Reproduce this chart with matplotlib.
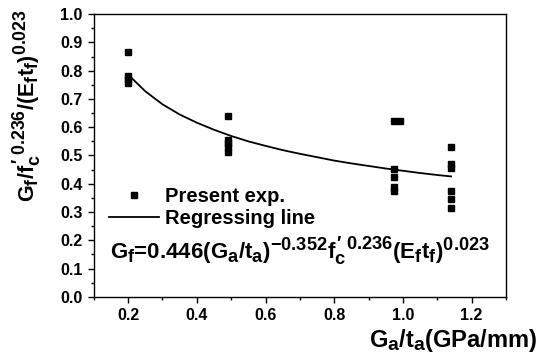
import numpy as np
import matplotlib
matplotlib.use('Agg')
import matplotlib.pyplot as plt
import matplotlib._mathtext as mt
from matplotlib.ticker import MultipleLocator

matplotlib.rcParams['font.family'] = 'Liberation Sans'
matplotlib.rcParams['font.weight'] = 'bold'
matplotlib.rcParams['mathtext.fontset'] = 'custom'
matplotlib.rcParams['mathtext.rm'] = 'Liberation Sans:bold'
matplotlib.rcParams['mathtext.it'] = 'Liberation Sans:bold'
matplotlib.rcParams['mathtext.bf'] = 'Liberation Sans:bold'
matplotlib.rcParams['xtick.direction'] = 'out'
matplotlib.rcParams['ytick.direction'] = 'out'
# sub/superscripts in the original are larger than mathtext default
mt.SHRINK_FACTOR = 0.82

exp_x = [0.2, 0.2, 0.2, 0.2,
         0.49, 0.49, 0.49, 0.49, 0.49,
         0.975, 0.99, 0.975, 0.975, 0.975, 0.975,
         1.14, 1.14, 1.14, 1.14, 1.14, 1.14]
exp_y = [0.865, 0.781, 0.77, 0.755,
         0.641, 0.555, 0.543, 0.531, 0.512,
         0.623, 0.621, 0.452, 0.425, 0.39, 0.375,
         0.531, 0.469, 0.455, 0.376, 0.345, 0.313]

# regressing line
reg_x = [0.20, 0.25, 0.30, 0.35, 0.40, 0.45, 0.50, 0.55, 0.60, 0.65, 0.70,
         0.75, 0.80, 0.85, 0.90, 0.95, 1.00, 1.05, 1.10, 1.14]
reg_y = [0.786, 0.727, 0.681, 0.645, 0.616, 0.591, 0.569, 0.550, 0.534, 0.519, 0.506,
         0.494, 0.482, 0.472, 0.463, 0.454, 0.446, 0.438, 0.431, 0.426]

fig = plt.figure(figsize=(5.36, 3.53), dpi=100)
ax = fig.add_axes([0.175, 0.159, 0.769, 0.801])

ax.plot(exp_x, exp_y, 's', color='black', markersize=4.3, label='Present exp.')
ax.plot(reg_x, reg_y, '-', color='black', linewidth=1.3, label='Regressing line')

ax.set_xlim(0.1, 1.3)
ax.set_ylim(0.0, 1.0)
ax.xaxis.set_major_locator(MultipleLocator(0.2))
ax.xaxis.set_minor_locator(MultipleLocator(0.1))
ax.yaxis.set_major_locator(MultipleLocator(0.1))
ax.yaxis.set_minor_locator(MultipleLocator(0.05))
ax.set_xticks([0.2, 0.4, 0.6, 0.8, 1.0, 1.2])
ax.tick_params(which='major', length=4.5, width=1, labelsize=11.5)
ax.tick_params(which='minor', length=2.5, width=1)
ax.tick_params(top=False, right=False)
for s in ax.spines.values():
    s.set_linewidth(1)

ax.set_xlabel(r'$G_a/t_a$(GPa/mm)', fontsize=17, fontweight='bold', ha='right')
ax.xaxis.set_label_coords(1.075, -0.105)
ax.set_ylabel(r"$G_f/f_c^{\prime\ 0.236}/(E_ft_f)^{0.023}$", fontsize=15.5, fontweight='bold')
ax.yaxis.set_label_coords(-0.12, 0.675)

leg = ax.legend(loc='upper left', bbox_to_anchor=(0.036, 0.39), frameon=False,
                fontsize=14.5, handlelength=2.5, handletextpad=0.3, borderpad=0,
                borderaxespad=0, labelspacing=0.15, numpoints=1)

ax.text(0.039, 0.134, r'$G_f$=0.446$(G_a/t_a)^{-0.352}f_c^{\prime\ 0.236}(E_ft_f)^{0.023}$',
        transform=ax.transAxes, fontsize=16, fontweight='bold', va='baseline')

plt.savefig('out.png', dpi=100)
